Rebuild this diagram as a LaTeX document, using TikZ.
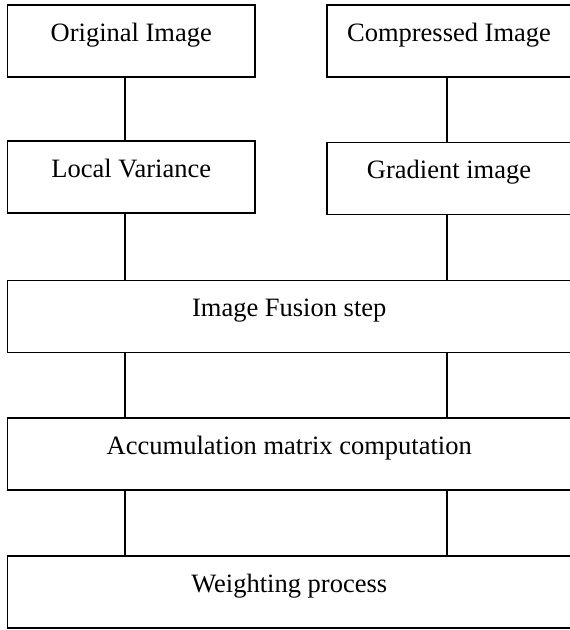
\documentclass[tikz,border=0pt]{standalone}
\usepackage{fontspec}
\setmainfont{Liberation Serif}
\begin{document}
\begin{tikzpicture}[x=1pt,y=-1pt,
  fbox/.style={draw=black,line width=1.5pt,rectangle,inner sep=0pt,
    text height=36pt,text depth=36pt,minimum height=72pt,
    font=\fontsize{26.5}{30}\selectfont},
  smallbox/.style={fbox,minimum width=247.5pt},
  widebox/.style={fbox,minimum width=563.5pt},
  conn/.style={draw=black,line width=1.5pt}]
\useasboundingbox (0,0) rectangle (570,630);
\node[smallbox] (orig) at (131.25,41) {Original Image};
\node[smallbox,minimum width=244pt] (comp) at (449,41) {Compressed Image};
\node[smallbox] (lv) at (131.25,177) {Local Variance};
\node[smallbox,minimum width=244pt] (grad) at (449,178.5) {Gradient image};
\node[widebox] (fus) at (289.25,316.5) {Image Fusion step};
\node[widebox] (acc) at (289.25,454) {Accumulation matrix computation};
\node[widebox] (wei) at (289.25,592) {Weighting process};
\coordinate (L) at (125,0);
\coordinate (R) at (447,0);
\draw[conn] (orig.south -| L) -- (lv.north -| L);
\draw[conn] (comp.south -| R) -- (grad.north -| R);
\draw[conn] (lv.south -| L) -- (fus.north -| L);
\draw[conn] (grad.south -| R) -- (fus.north -| R);
\draw[conn] (fus.south -| L) -- (acc.north -| L);
\draw[conn] (fus.south -| R) -- (acc.north -| R);
\draw[conn] (acc.south -| L) -- (wei.north -| L);
\draw[conn] (acc.south -| R) -- (wei.north -| R);
\end{tikzpicture}
\end{document}
